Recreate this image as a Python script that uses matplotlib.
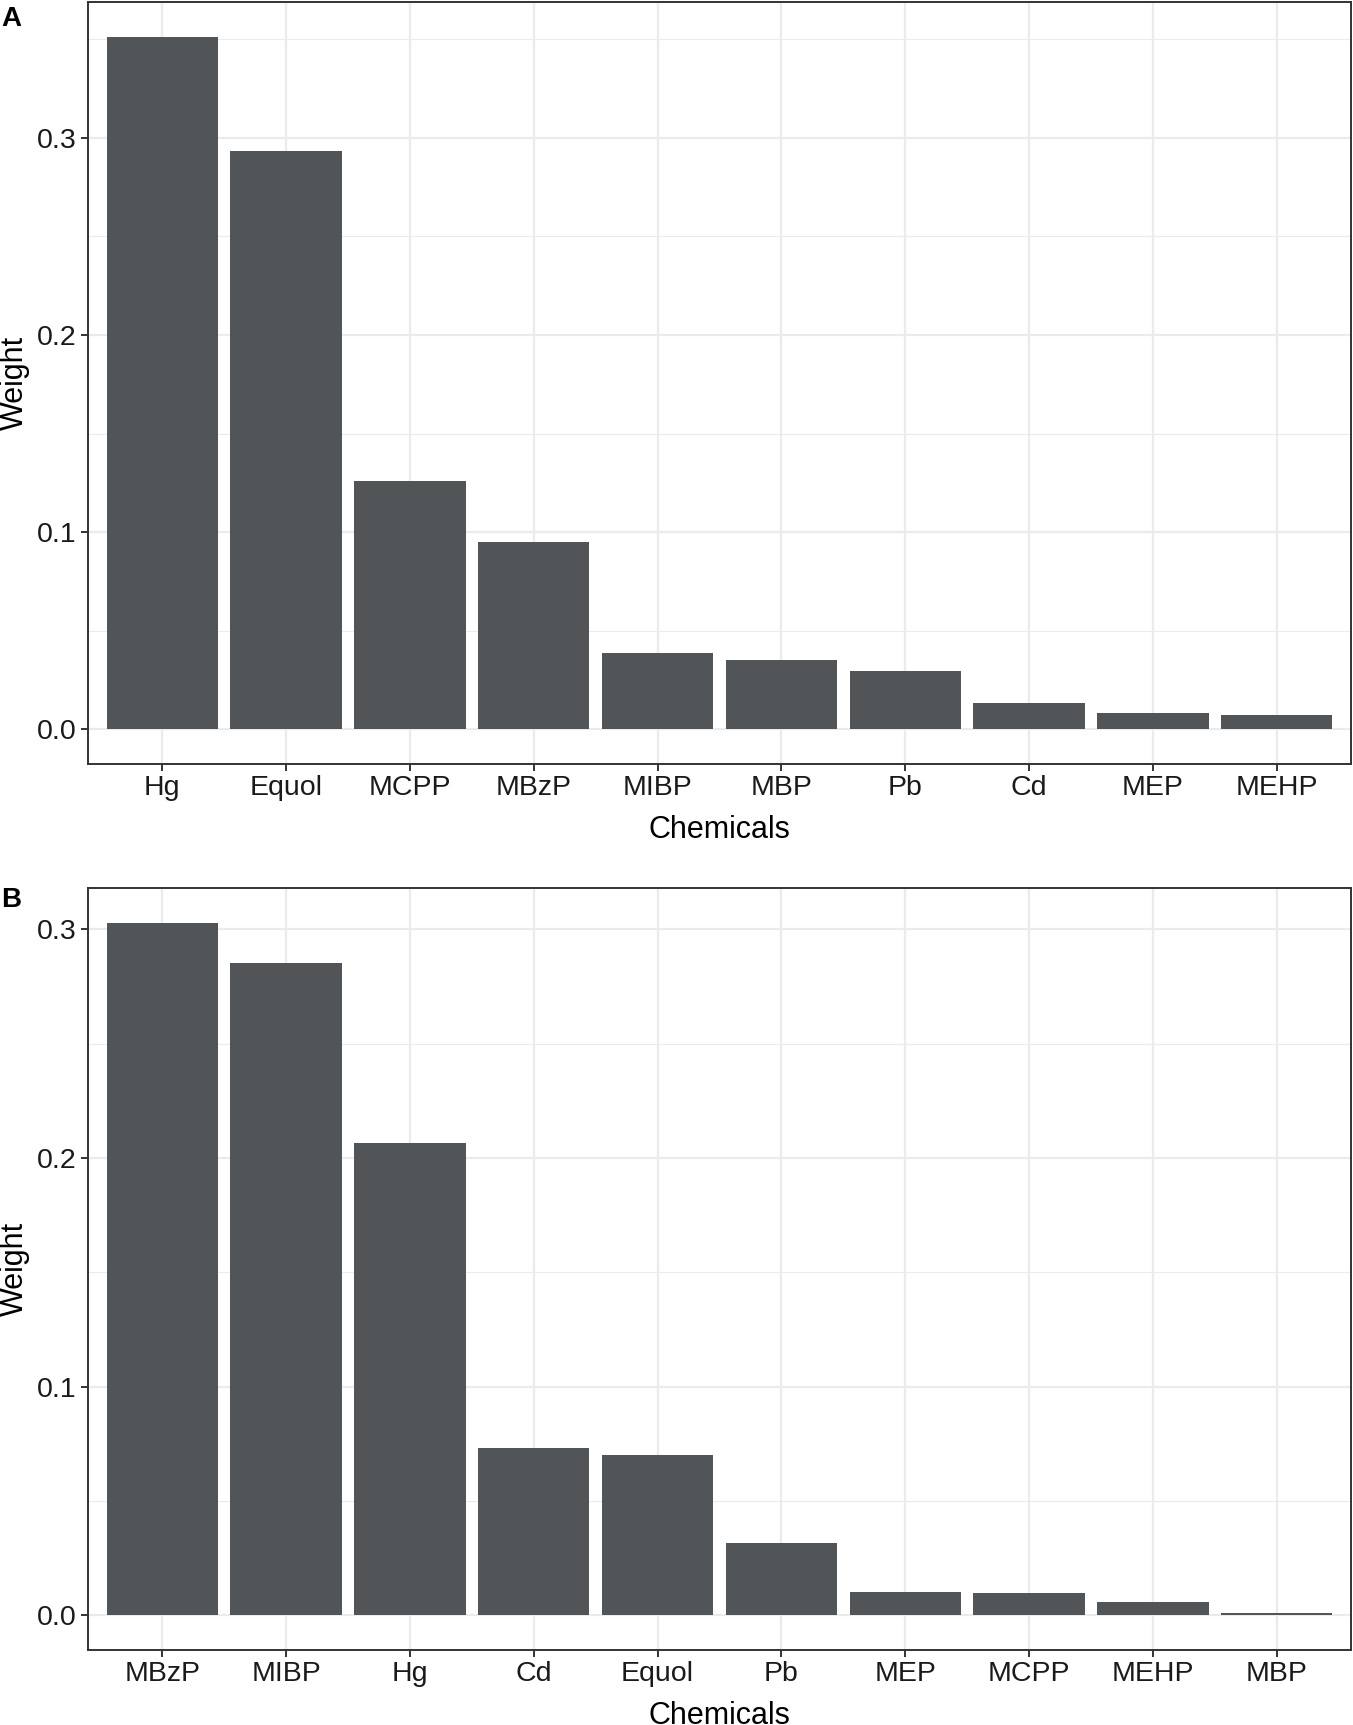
import numpy as np
import matplotlib
matplotlib.use("Agg")
import matplotlib.pyplot as plt
from matplotlib.ticker import MultipleLocator

plt.rcParams['font.family'] = ['Liberation Sans', 'DejaVu Sans']

# panel A: weights
chem_a = ["Hg", "Equol", "MCPP", "MBzP", "MIBP", "MBP", "Pb", "Cd", "MEP", "MEHP"]
weight_a = [0.3513, 0.2933, 0.1260, 0.0948, 0.0385, 0.0351, 0.0296, 0.0134, 0.0084, 0.0073]

# panel B: weights
chem_b = ["MBzP", "MIBP", "Hg", "Cd", "Equol", "Pb", "MEP", "MCPP", "MEHP", "MBP"]
weight_b = [0.3030, 0.2852, 0.2064, 0.0730, 0.0701, 0.0317, 0.0102, 0.0097, 0.0059, 0.0011]

BAR = "#515558"
GRID = "#EBEBEB"
BORDER = "#333333"

W, H = 1353, 1725
fig = plt.figure(figsize=(W / 100, H / 100), dpi=100)


def draw_panel(ax, cats, vals):
    x = np.arange(len(cats))
    ax.bar(x, vals, width=0.9, color=BAR, zorder=3)
    top = max(vals)
    pad = top * 0.05
    ax.set_ylim(-pad, top + pad)
    ax.set_xlim(-0.6, len(cats) - 0.4)

    ax.yaxis.set_major_locator(MultipleLocator(0.1))
    ax.yaxis.set_minor_locator(MultipleLocator(0.05))
    ax.set_xticks(x)
    ax.set_xticklabels(cats)
    ax.yaxis.set_major_formatter(matplotlib.ticker.FormatStrFormatter("%.1f"))

    ax.grid(which="major", color=GRID, lw=1.6, zorder=0)
    ax.grid(which="minor", axis="y", color=GRID, lw=0.8, zorder=0)
    ax.set_axisbelow(True)

    for s in ax.spines.values():
        s.set_color(BORDER)
        s.set_linewidth(1.4)
        s.set_zorder(5)

    ax.tick_params(which="major", length=5, width=1.4, color=BORDER,
                   labelsize=20.5, labelcolor="#1a1a1a", pad=3)
    ax.tick_params(which="minor", length=0)

    ax.set_xlabel("Chemicals", fontsize=22, labelpad=10)
    ax.set_ylabel("Weight", fontsize=22, labelpad=5)


ax_a = fig.add_axes([88 / W, 1 - 764 / H, (1351 - 88) / W, (764 - 2) / H])
draw_panel(ax_a, chem_a, weight_a)
ax_b = fig.add_axes([88 / W, 1 - 1650 / H, (1351 - 88) / W, (1650 - 888) / H])
draw_panel(ax_b, chem_b, weight_b)

fig.text(1 / W, 1 - 19 / H, "A", fontsize=20, fontweight="bold", va="center", ha="left")
fig.text(1 / W, 1 - 900 / H, "B", fontsize=20, fontweight="bold", va="center", ha="left")

fig.savefig("out.png", dpi=100, facecolor="white")
